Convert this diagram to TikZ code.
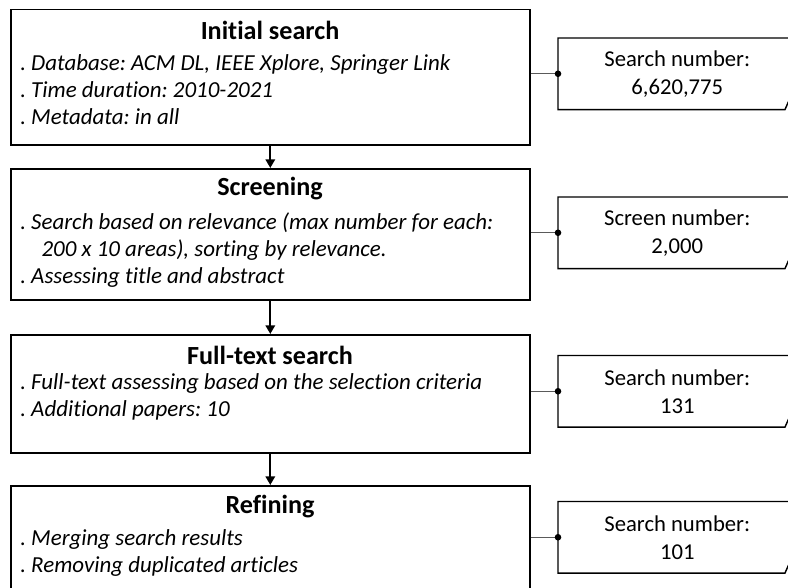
\documentclass[tikz,border=0pt]{standalone}
\usepackage{fontspec}
\setmainfont{Carlito}[Ligatures=NoCommon]
\usepackage{tikz}
\usetikzlibrary{arrows.meta}
\frenchspacing

\tikzset{
  stagebox/.style={draw, line width=1.2pt, anchor=north west, inner sep=0pt, minimum width=389.25pt},
  stagetitle/.style={inner sep=0pt, font=\fontsize{19.6pt}{22pt}\selectfont\bfseries},
  stagebody/.style={anchor=north west, inner sep=0pt, align=left, font=\fontsize{17.2pt}{20.25pt}\selectfont\itshape},
  numbox/.style={inner sep=0pt, minimum width=178.5pt, minimum height=53.25pt, anchor=north west, align=center, font=\fontsize{17pt}{21pt}\selectfont},
  numline/.style={line width=1.1pt},
  link/.style={draw={rgb,255:red,90;green,90;blue,90}, line width=0.6pt},
  flow/.style={line width=1.7pt, -{Triangle[length=6.5pt,width=7pt]}},
}

\begin{document}
\begin{tikzpicture}[x=0.75pt,y=0.75pt,yscale=-1,xscale=1]
\clip (0,0) rectangle (788,588);

% Stage boxes
\node[stagebox, minimum height=101.6pt] (init) at (10,8.6) {};
\node[stagebox, minimum height=98.25pt] (screen) at (10,168) {};
\node[stagebox, minimum height=88.5pt] (fulltext) at (10,334) {};
\node[stagebox, minimum height=110pt] (refine) at (10,485) {};

% Stage titles
\node[stagetitle] (initt) at (270,30) {Initial search};
\node[stagetitle] (screent) at (270,189) {Screening};
\node[stagetitle] (fulltextt) at (270,355) {Full-text search};
\node[stagetitle] (refinet) at (270,507) {Refining};

% Stage items
\node[stagebody] (initb) at (20,54) {. Database: ACM DL, IEEE Xplore, Springer Link\\. Time duration: 2010-2021\\. Metadata: in all};
\node[stagebody] (screenb) at (20,212) {. Search based on relevance (max number for each:\\\hspace*{16pt}200 x 10 areas), sorting by relevance.\\. Assessing title and abstract};
\node[stagebody] (fulltextb) at (20,373) {. Full-text assessing based on the selection criteria\\. Additional papers: 10};
\node[stagebody] (refineb) at (20,529) {. Merging search results\\. Removing duplicated articles};

% Flow arrows
\draw[flow] (init.south) -- (screen.north);
\draw[flow] (screen.south) -- (fulltext.north);
\draw[flow] (fulltext.south) -- (refine.north);

% Number boxes
\node[numbox] (initn) at (558,38) {Search number:\\6,620,775};
\node[numbox] (screenn) at (558,197) {Screen number:\\2,000};
\node[numbox] (fulltextn) at (558,355.5) {Search number:\\131};
\node[numbox] (refinen) at (558,501.5) {Search number:\\101};

% Number box outlines (cut at the right side)
\draw[numline] (initn.north east) ++(30,0) -- (initn.north west) -- (initn.south west) -- ++(227,0) -- ++(4,-9);
\draw[numline] (screenn.north east) ++(30,0) -- (screenn.north west) -- (screenn.south west) -- ++(227,0) -- ++(4,-9);
\draw[numline] (fulltextn.north east) ++(30,0) -- (fulltextn.north west) -- (fulltextn.south west) -- ++(227,0) -- ++(4,-9);
\draw[numline] (refinen.north east) ++(30,0) -- (refinen.north west) -- (refinen.south west) -- ++(227,0) -- ++(4,-9);

% Links with dots
\draw[link] (init.east |- initn.west) -- (initn.west);
\draw[link] (screen.east |- screenn.west) -- (screenn.west);
\draw[link] (fulltext.east |- fulltextn.west) -- (fulltextn.west);
\draw[link] (refine.east |- refinen.west) -- (refinen.west);
\fill (initn.west) circle (3.3);
\fill (screenn.west) circle (3.3);
\fill (fulltextn.west) circle (3.3);
\fill (refinen.west) circle (3.3);

\end{tikzpicture}
\end{document}
